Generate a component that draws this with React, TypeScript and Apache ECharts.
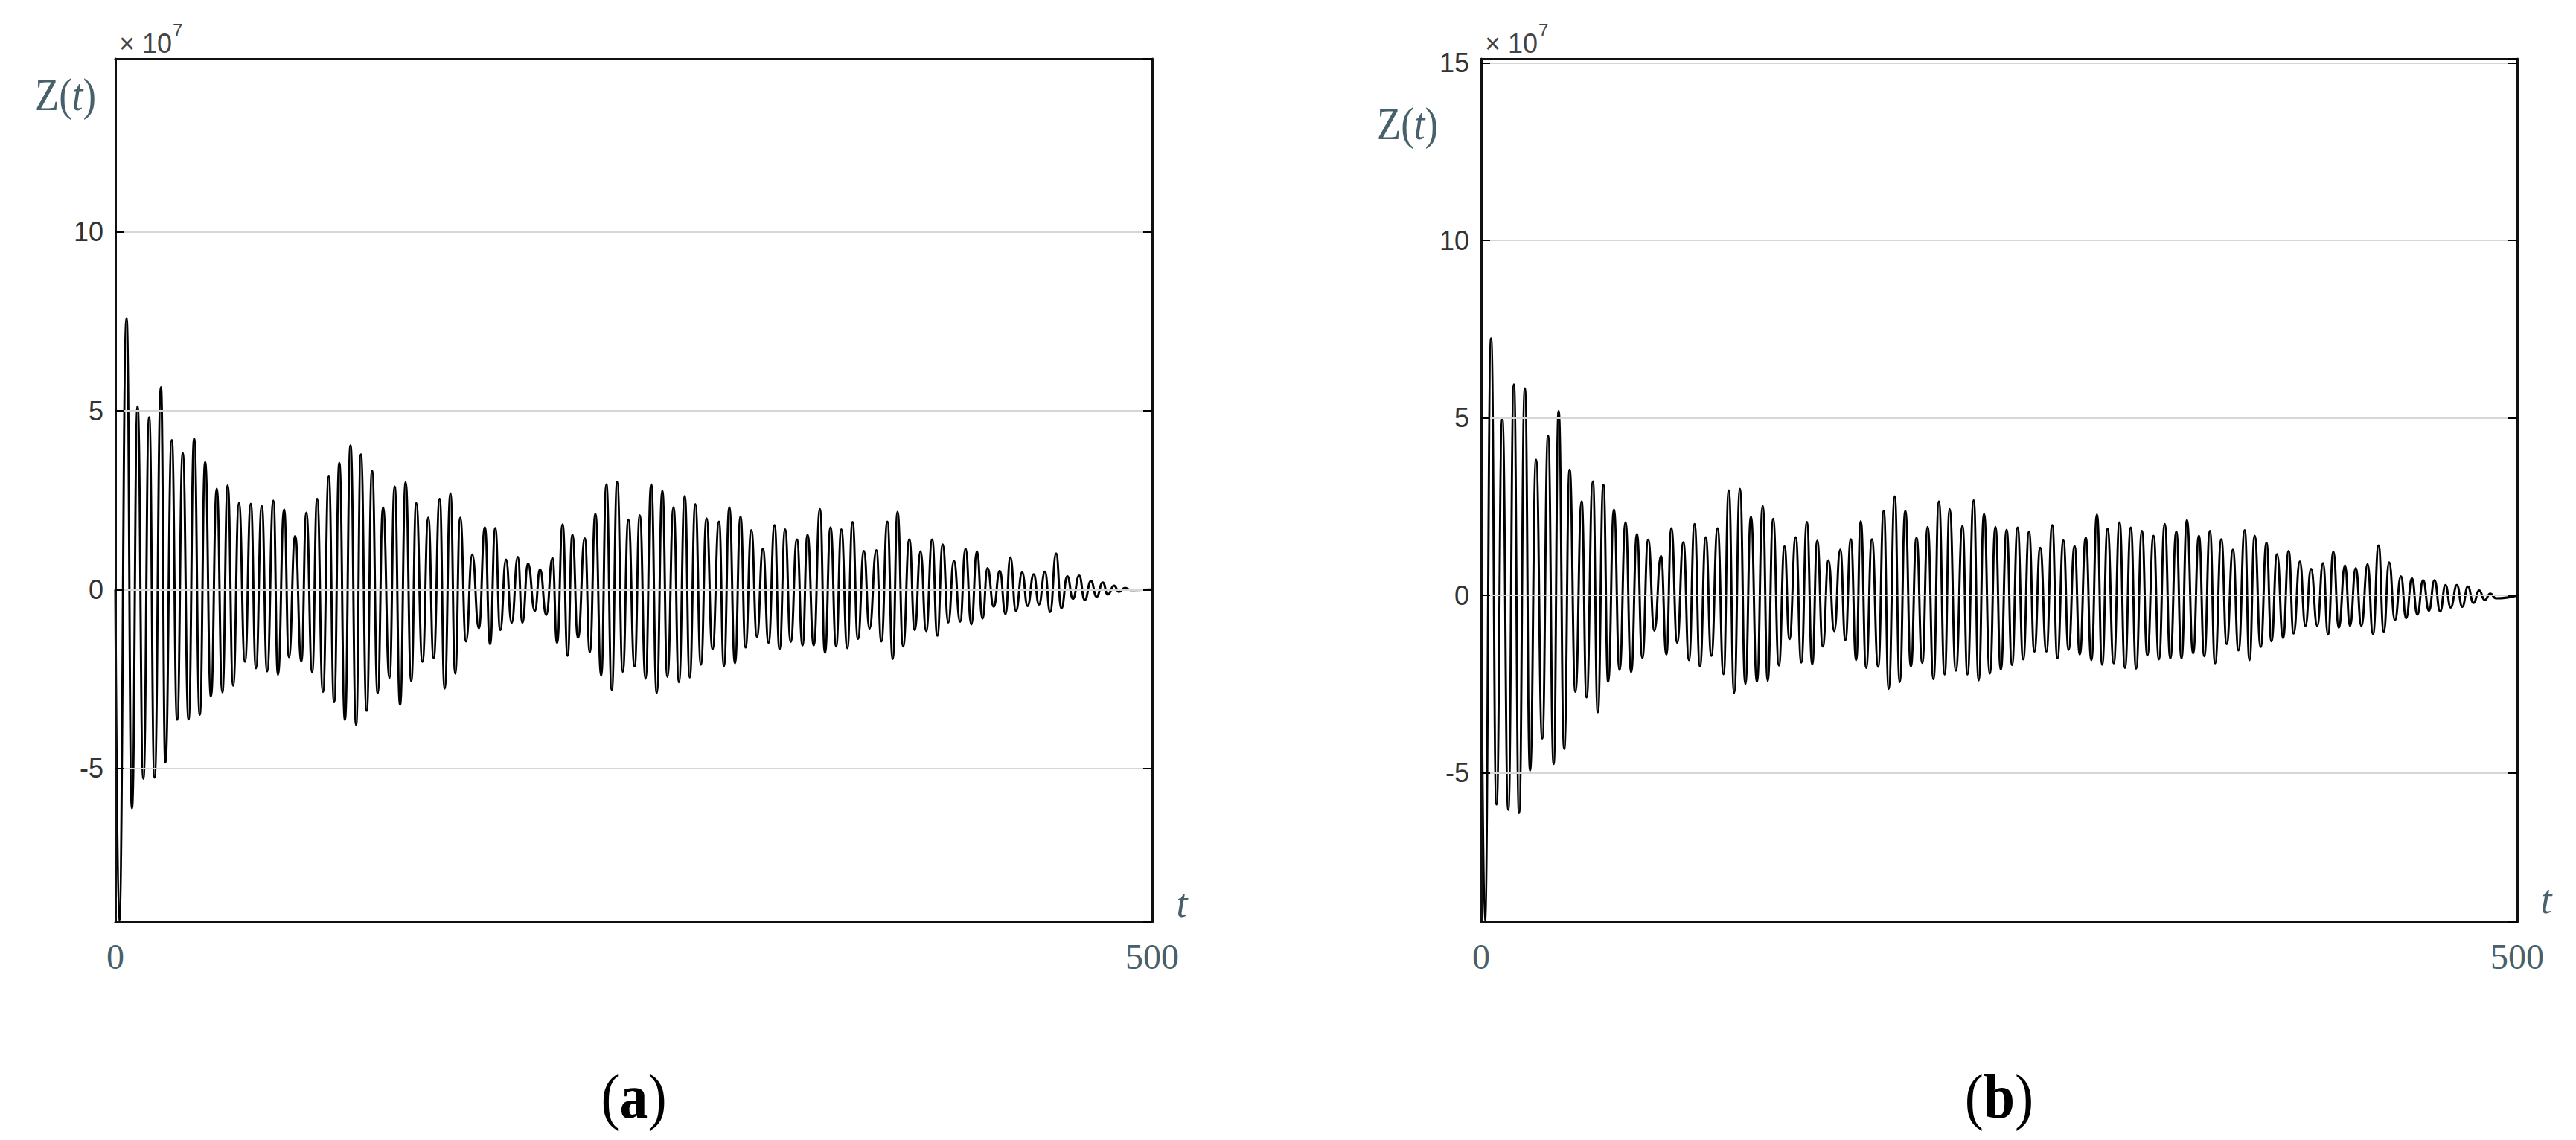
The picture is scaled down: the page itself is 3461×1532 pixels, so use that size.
import React, { useEffect, useRef } from "react";
import * as echarts from "echarts";

// Panel (a): extrema of Z(t) (units of 1e7)
const timeA = [
  0, 1.8, 5.4, 8.0, 10.7, 13.5, 16.3, 18.9, 22.0, 24.1, 27.2, 29.8, 32.5, 35.3, 38.0, 40.7, 43.3, 46.1, 48.9, 51.6, 54.2, 56.8,
  59.6, 62.5, 65.3, 67.8, 70.6, 73.2, 76.2, 78.4, 81.4, 83.7, 86.7, 89.7, 92.1, 94.9, 97.3, 100.1, 102.9, 105.5, 108.0, 110.7,
  113.4, 116.1, 118.4, 121.2, 123.8, 126.5, 129.1, 132.2, 134.7, 137.3, 140.0, 142.7, 145.1, 148.1, 150.9, 153.5, 156.4, 158.8,
  161.6, 163.9, 166.3,
  169.1, 172.1, 175.3, 178.2, 180.7, 183.2, 185.6, 188.4, 191.1, 194.1, 196.3, 199.0, 202.3, 204.8, 207.8, 210.8, 213.0, 215.7,
  218.1, 220.4, 223.1, 226.4, 228.8, 231.5, 234.3, 236.8, 239.4, 242.0, 244.7, 247.4, 250.4, 252.9, 255.7, 258.4, 261.1, 263.8,
  266.2, 269.2, 271.8, 274.6, 277.0, 279.7, 282.4, 285.1, 288.0, 291.1, 293.5, 296.1, 298.8, 301.5, 303.9, 306.7, 309.4, 312.3,
  315.0, 317.9, 320.3, 323.0, 325.7, 328.7, 331.4,
  333.8, 336.8, 339.8, 342.2, 344.9, 347.6, 350.1, 353.0, 355.5, 358.1, 361.0, 363.7, 367.0, 369.4, 372.3, 374.9, 377.2, 379.9,
  382.9, 385.5, 388.3, 391.0, 393.9, 396.4, 399.0, 401.7, 404.4, 407.4, 410.0, 412.8, 415.5, 418.2, 420.6, 423.6, 426.5, 429.3,
  431.6, 434.3, 437.3, 439.9, 442.9, 445.4, 448.3, 450.8, 453.7, 456.2, 459.1, 461.8, 464.8, 467.5, 470.5, 473.2, 476.2, 478.6,
  481.6, 484.0, 487.0, 489.4, 500,
];
const zA = [
  0, -9.3, 7.59, -6.12, 5.12, -5.29, 4.82, -5.26, 5.66, -4.84, 4.18, -3.64, 3.81, -3.63, 4.22, -3.5, 3.56, -2.99, 2.82, -2.87,
  2.91, -2.69, 2.42, -2.02, 2.4, -2.2, 2.34, -2.29, 2.49, -2.38, 2.24, -1.89, 1.5, -2.01, 2.15, -2.32, 2.54, -2.86, 3.16, -3.15,
  3.54, -3.64, 4.03, -3.78, 3.78, -3.39, 3.32, -2.9, 2.3, -2.47, 2.88, -3.22, 3.0, -2.57, 2.42, -2.02, 2.01, -1.92, 2.54, -2.77,
  2.69, -2.35, 2.01,
  -1.45, 0.98, -1.08, 1.74, -1.53, 1.72, -1.13, 0.84, -0.93, 0.91, -0.93, 0.73, -0.6, 0.57, -0.71, 0.88, -1.49, 1.82, -1.85,
  1.53, -1.35, 1.43, -1.75, 2.12, -2.41, 2.94, -2.8, 3.01, -2.3, 1.96, -2.15, 2.08, -2.49, 2.94, -2.89, 2.77, -2.44, 2.3, -2.59,
  2.62, -2.46, 2.39, -2.1, 1.99, -1.67, 1.9, -2.14, 2.3, -2.06, 2.04, -1.62, 1.66, -1.32, 1.14, -1.49, 1.8, -1.67, 1.68, -1.46,
  1.4, -1.56,
  1.53, -1.56, 2.25, -1.77, 1.74, -1.59, 1.68, -1.64, 1.89, -1.38, 1.08, -1.09, 1.1, -1.45, 1.9, -1.94, 2.17, -1.59, 1.4, -1.13,
  1.07, -1.16, 1.4, -1.29, 1.26, -0.92, 0.81, -0.9, 1.14, -0.97, 1.07, -0.81, 0.6, -0.48, 0.52, -0.69, 0.9, -0.6, 0.48, -0.46,
  0.43, -0.42, 0.5, -0.63, 1.01, -0.53, 0.37, -0.26, 0.39, -0.29, 0.24, -0.2, 0.2, -0.14, 0.11, -0.06, 0.05, -0.01, 0,
];

// Panel (b)
const timeB = [
  0, 1.8, 4.8, 7.4, 10.2, 13.1, 15.8, 18.3, 21.1, 23.6, 26.5, 29.5, 32.3, 35.0, 37.4, 40.1, 42.7, 45.5, 48.5, 50.9, 53.9, 56.3,
  59.0, 61.3, 64.1, 66.8, 69.7, 72.4, 75.2, 77.8, 80.6, 83.6, 86.8, 89.4, 91.8, 94.6, 97.6, 100.3, 103.0, 105.6, 108.4, 111.1,
  114.1, 117.0, 119.5, 122.1, 124.9, 127.5, 130.2, 133.1, 135.9, 138.3, 140.9, 143.7, 146.4, 148.8, 151.8, 154.5, 157.2, 159.8,
  162.2, 164.9,
  167.6, 170.4, 173.3, 175.8, 178.4, 181.0, 183.2, 185.8, 188.6, 191.6, 194.3, 196.7, 199.6, 202.0, 204.7, 207.4, 210.1, 212.9,
  215.5, 218.3, 220.9, 223.7, 226.1, 229.1, 232.3, 234.7, 237.7, 240.1, 242.7, 245.5, 248.2, 250.8, 253.6, 256.2, 258.9, 261.6,
  264.4, 267.0, 269.8, 272.8, 275.6, 278.1, 281.0, 283.5, 286.4, 288.9, 291.8, 294.5, 297.2, 299.7, 302.3, 305.3, 308.1, 310.7,
  313.5, 316.1, 318.9, 321.5, 324.5, 327.1, 329.9,
  332.6, 335.5, 338.0, 340.6, 343.6, 346.4, 349.0, 351.7, 354.2, 357.2, 359.8, 362.8, 365.5, 368.5, 370.8, 373.3, 376.2, 379.0,
  381.4, 384.1, 387.0, 389.7, 392.1, 395.1, 397.8, 400.5, 403.5, 406.3, 408.7, 411.3, 413.9, 416.9, 419.3, 422.1, 424.8, 427.8,
  430.4, 433.1, 435.6, 438.2, 441.0, 443.9, 446.4, 449.2, 451.8, 454.6, 457.4, 460.1, 462.8, 465.4, 467.9, 470.9, 473.5, 476.2,
  478.9, 481.7, 484.3, 487.0, 489.7, 500,
];
const zB = [
  0, -9.2, 7.24, -5.89, 4.99, -6.04, 5.94, -6.13, 5.83, -4.93, 3.82, -4.03, 4.5, -4.75, 5.2, -4.32, 3.54, -2.71, 2.65, -2.87,
  3.21, -3.29, 3.11, -2.43, 2.42, -2.1, 2.06, -2.16, 1.73, -1.76, 1.57, -0.99, 1.11, -1.66, 1.89, -1.33, 1.5, -1.82, 2.01, -2.0,
  1.64, -1.7, 1.89, -2.22, 2.96, -2.74, 3.0, -2.49, 2.22, -2.43, 2.52, -2.4, 2.16, -1.97, 1.38, -1.23, 1.64, -1.89, 2.07, -1.94,
  1.54, -1.44,
  0.99, -1.0, 1.29, -1.26, 1.58, -1.82, 2.09, -2.04, 1.58, -2.01, 2.39, -2.63, 2.79, -2.44, 2.39, -2.0, 1.63, -1.9, 1.93, -2.36,
  2.65, -2.23, 2.43, -2.12, 1.96, -2.23, 2.68, -2.39, 2.3, -2.2, 1.93, -2.09, 1.85, -1.96, 1.91, -1.8, 1.8, -1.58, 1.34, -1.58,
  1.98, -1.77, 1.55, -1.53, 1.39, -1.66, 1.63, -1.82, 2.28, -1.95, 1.88, -1.91, 2.06, -2.04, 1.91, -2.06, 1.82, -1.69, 1.68,
  -1.8, 2.01,
  -1.77, 1.8, -1.77, 2.12, -1.63, 1.68, -1.71, 1.82, -1.91, 1.58, -1.37, 1.29, -1.55, 1.84, -1.82, 1.68, -1.45, 1.48, -1.29,
  1.16, -1.2, 1.25, -1.07, 0.96, -0.86, 0.75, -0.86, 0.91, -1.1, 1.23, -0.91, 0.84, -0.86, 0.77, -0.86, 0.88, -1.09, 1.41,
  -1.02, 0.93, -0.7, 0.54, -0.64, 0.48, -0.54, 0.43, -0.43, 0.43, -0.45, 0.29, -0.34, 0.29, -0.32, 0.25, -0.21, 0.14, -0.13,
  0.05, -0.08, 0,
];

const xRange = [0, 500];
const xTickStep = 500;
const yRangeA = [-9.3, 14.85];
const yRangeB = [-9.2, 15.12];
const panelTags = ["a", "b"];
const yScaleNote = "× 10";
const yScaleExp = "7";

const SLATE = "#48606a";
const SERIF = "'Liberation Serif', 'Times New Roman', serif";
const SANS = "'Liberation Sans', Arial, sans-serif";

function pairs(t: number[], z: number[]) {
  const n = Math.min(t.length, z.length);
  const out: number[][] = [];
  for (let i = 0; i < n; i++) out.push([t[i], z[i]]);
  return out;
}

export default function App() {
  const ref = useRef<HTMLDivElement>(null);
  useEffect(() => {
    document.body.style.margin = "0";
    const chart = echarts.init(ref.current!, null, { renderer: "svg" });

    const grids = [
      { left: 155, top: 79, width: 1393, height: 1160 },
      { left: 1990, top: 79, width: 1392, height: 1160 },
    ];
    const ranges = [yRangeA, yRangeB];
    const frame = { show: true, onZero: false, lineStyle: { color: "#111", width: 3 } };

    const yAxes: any[] = [];
    const xAxes: any[] = [];
    grids.forEach((g, i) => {
      xAxes.push({
        gridIndex: i,
        type: "value",
        position: "bottom",
        min: xRange[0],
        max: xRange[1],
        interval: xTickStep,
        axisLine: frame,
        axisTick: { show: false },
        splitLine: { show: false },
        axisLabel: { fontFamily: SERIF, fontSize: 48, color: SLATE, margin: 22 },
        z: 5,
      });
      xAxes.push({
        gridIndex: i,
        type: "value",
        position: "top",
        min: xRange[0],
        max: xRange[1],
        interval: xTickStep,
        axisLine: frame,
        axisTick: { show: false },
        splitLine: { show: false },
        axisLabel: { show: false },
        z: 5,
      });
      yAxes.push({
        gridIndex: i,
        type: "value",
        position: "left",
        min: ranges[i][0],
        max: ranges[i][1],
        splitNumber: 5,
        axisLine: frame,
        axisTick: { show: true, inside: true, length: 12, lineStyle: { color: "#000", width: 2 } },
        axisLabel: { showMinLabel: false, showMaxLabel: false, fontFamily: SANS, fontSize: 36, color: "#333", margin: 16 },
        splitLine: { show: true, showMinLine: false, showMaxLine: false, lineStyle: { color: "#d6d6d6", width: 2 } },
        z: 5,
      });
      yAxes.push({
        gridIndex: i,
        type: "value",
        position: "right",
        min: ranges[i][0],
        max: ranges[i][1],
        splitNumber: 5,
        axisLine: frame,
        axisTick: { show: true, inside: true, length: 12, lineStyle: { color: "#000", width: 2 } },
        axisLabel: { show: false },
        splitLine: { show: false },
        z: 5,
      });
    });

    const mkSeries = (data: number[][], gi: number) => ({
      type: "line",
      xAxisIndex: gi * 2,
      yAxisIndex: gi * 2,
      data,
      showSymbol: false,
      smooth: 0.5,
      smoothMonotone: "x",
      lineStyle: { color: "#000", width: 3 },
      z: 3,
    });

    const graphic: any[] = [];
    const zPos = [
      [88, 127],
      [1891, 166],
    ];
    const tPos = [
      [1588, 1214],
      [3421, 1209],
    ];
    grids.forEach((g, i) => {
      graphic.push({
        type: "text",
        x: g.left + 5,
        y: 76,
        style: { text: yScaleNote, fontFamily: SANS, fontSize: 36, fill: "#444", verticalAlign: "bottom" },
      });
      graphic.push({
        type: "text",
        x: g.left + 77,
        y: 52,
        style: { text: yScaleExp, fontFamily: SANS, fontSize: 24, fill: "#444", verticalAlign: "bottom" },
      });
      graphic.push({
        type: "text",
        x: zPos[i][0],
        y: zPos[i][1],
        scaleX: 0.85,
        style: {
          text: "{r|Z(}{i|t}{r|)}",
          align: "center",
          verticalAlign: "middle",
          rich: {
            r: { fontFamily: SERIF, fontSize: 62, fill: SLATE },
            i: { fontFamily: SERIF, fontSize: 62, fontStyle: "italic", fill: SLATE },
          },
        },
      });
      graphic.push({
        type: "text",
        x: tPos[i][0],
        y: tPos[i][1],
        style: {
          text: "t",
          fontFamily: SERIF,
          fontSize: 54,
          fontStyle: "italic",
          fill: SLATE,
          align: "center",
          verticalAlign: "middle",
        },
      });
      graphic.push({
        type: "text",
        x: g.left + g.width / 2,
        y: 1474,
        scaleX: 0.9,
        style: {
          text: "{p|(}{b|" + panelTags[i] + "}{p|)}",
          align: "center",
          verticalAlign: "middle",
          rich: {
            p: { fontFamily: SERIF, fontSize: 84, fill: "#000" },
            b: { fontFamily: SERIF, fontSize: 84, fontWeight: "bold", fill: "#000" },
          },
        },
      });
    });

    chart.setOption({
      animation: false,
      backgroundColor: "#fff",
      grid: grids.map((g) => ({ ...g, containLabel: false })),
      xAxis: xAxes,
      yAxis: yAxes,
      series: [mkSeries(pairs(timeA, zA), 0), mkSeries(pairs(timeB, zB), 1)],
      graphic,
    });
    return () => chart.dispose();
  }, []);
  return <div ref={ref} style={{ width: 3461, height: 1532, background: "#fff" }} />;
}
